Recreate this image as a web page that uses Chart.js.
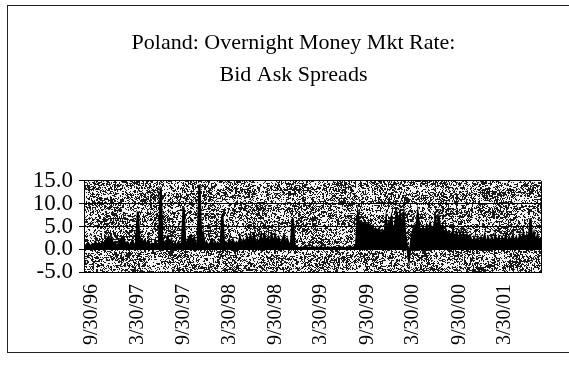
<!DOCTYPE html>
<html>
<head>
<meta charset="utf-8">
<title>Poland: Overnight Money Mkt Rate</title>
<script src="https://cdn.jsdelivr.net/npm/chart.js@4/dist/chart.umd.min.js"></script>
<style>
  html, body { margin: 0; padding: 0; background: #fff; }
</style>
</head>
<body>
<canvas id="spreads" width="569" height="367"></canvas>
<script>
// weekly bid/ask spread readings, first week starting 9/2/96
const firstWeek = '9/2/96';
const spreads1996 = [1.0, 0.5, 1.2, 0.6, 1.0, 0.5, 1.5, 0.8, 1.2, 0.6, 1.5, 1.0, 2.0, 2.5, 2.0, 2.5, 1.0];
const spreads1997 = [1.5, 0.6, 1.2, 2.0, 2.5, 2.3, 1.0, 1.5, 0.8, 1.2,
                     1.8, 0.8, 1.2, 8.3, 1.0, 2.0, 1.5, 2.0, 0.8, 1.8,
                     0.7, 1.2, 0.8, 1.5, 1.0, 1.3, 13.5, 1.0, 1.5, 0.8,
                     2.5, 1.0, 2.0, 0.7, 1.2, 0.8, 1.5, 1.0, 1.3, 9.2,
                     1.0, 1.5, 2.5, 3.0, 1.5, 2.5, 1.0, 1.5, 14.2, 2.0,
                     3.5, 1.0];
const spreads1998 = [1.5, 0.8, 1.2, 2.0, 1.0, 1.5, 0.8, 1.2, 1.0, 7.7,
                     1.0, 1.5, 0.8, 2.0, 1.0, 2.0, 1.0, 1.5, 0.8, 2.5,
                     1.0, 2.0, 1.0, 2.5, 1.2, 3.0, 1.5, 3.0, 1.0, 2.0,
                     1.5, 3.0, 1.0, 3.0, 1.5, 2.5, 1.0, 3.0, 1.2, 3.0,
                     1.5, 2.5, 1.0, 2.0, 3.0, 1.0, 2.0, 0.8, 1.5, 6.8,
                     1.0, 0.5];
const spreads1999 = [0.3, 0.2, 0.4, 0.2, 0.3, 0.5, 0.2, 0.3, 0.2, 0.4,
                     0.3, 0.2, 0.3, 0.6, 0.2, 0.3, 0.2, 0.4, 0.3, 0.2,
                     0.3, 0.5, 0.2, 0.3, 0.2, 0.4, 0.3, 0.2, 0.3, 0.4,
                     0.2, 0.3, 0.5, 1.0, 7.5, 5.0, 6.0, 5.5, 6.0, 5.0,
                     5.5, 4.5, 5.0, 3.5, 4.5, 4.0, 4.5, 3.0, 4.0, 3.0,
                     6.5, 4.0];
const spreads2000 = [5.5, 7.0, 3.5, 5.0, 7.5, 4.0, 7.5, 5.0, 7.5, 2.5,
                     0.5, -2.2, 1.0, 3.5, 5.0, 4.0, 7.8, 4.5, 3.0, 4.5,
                     3.0, 5.0, 3.5, 5.5, 4.0, 4.5, 6.5, 4.0, 6.8, 4.0,
                     5.0, 3.0, 4.0, 2.5, 3.5, 2.5, 4.0, 2.0, 3.5, 1.5,
                     3.5, 1.5, 3.0, 1.0, 3.0, 1.5, 2.5, 1.0, 2.5, 1.5,
                     2.5, 1.0];
const spreads2001 = [2.5, 1.5, 3.0, 1.0, 2.5, 1.5, 2.5, 1.0, 3.0, 1.5,
                     2.5, 1.0, 2.5, 1.5, 3.0, 1.0, 2.5, 1.5, 3.0, 1.0,
                     2.5, 1.5, 3.0, 1.5, 3.5, 1.5, 3.0, 2.0, 6.8, 2.0,
                     3.5, 1.5, 3.0, 1.5, 2.5];

const tickLabels = ['9/30/96', '3/30/97', '9/30/97', '3/30/98', '9/30/98',
                    '3/30/99', '9/30/99', '3/30/00', '9/30/00', '3/30/01'];
const axisStart = '8/29/96';
const axisEnd = '8/20/01';
const yTicks = [-5, 0, 5, 10, 15];

function toDay(s) {
    const [m, d, y] = s.split('/').map(Number);
    return Date.UTC(y < 50 ? 2000 + y : 1900 + y, m - 1, d) / 864e5;
}

const spreads = [].concat(spreads1996, spreads1997, spreads1998, spreads1999, spreads2000, spreads2001);
const day0 = toDay(firstWeek);
const points = spreads.map((v, i) => ({ x: day0 + 7 * i, y: v }));
const tickDays = tickLabels.map(toDay);

const serif = 'Liberation Serif, Times New Roman, serif';

// cheap integer hash, used for the speckled plot fill
function speck(x, y) {
    let n = Math.imul(x + 1, 374761393) ^ Math.imul(y + 7, 668265263);
    n = Math.imul(n ^ (n >>> 13), 1274126177);
    return ((n ^ (n >>> 16)) >>> 0) / 4294967296;
}

// grainy grey fill behind the plot, plus the frame around the whole chart
const plotBackdrop = {
    id: 'plotBackdrop',
    beforeDraw(chart) {
        const { ctx, chartArea: a } = chart;
        const left = Math.round(a.left), top = Math.round(a.top);
        const w = Math.round(a.right) - left, h = Math.round(a.bottom) - top;
        const img = ctx.createImageData(w, h);
        for (let y = 0; y < h; y++) {
            for (let x = 0; x < w; x++) {
                const clump = speck((x >> 1) + 3000, (y >> 1) + 5000);
                const dens = 0.48 + 0.1 * Math.sin(x / 13 + y / 7) * Math.cos(y / 5 - x / 19);
                const t = 0.6 * speck(x, y) + 0.4 * clump;
                const g = t < dens ? 25 : 245;
                const k = (y * w + x) * 4;
                img.data[k] = img.data[k + 1] = img.data[k + 2] = g;
                img.data[k + 3] = 255;
            }
        }
        ctx.putImageData(img, left, top);

        ctx.save();
        ctx.strokeStyle = '#222';
        ctx.lineWidth = 1;
        ctx.beginPath();
        ctx.moveTo(7.5, 5);
        ctx.lineTo(7.5, 353);
        ctx.moveTo(7, 5.5);
        ctx.lineTo(569, 5.5);
        ctx.moveTo(7, 352.5);
        ctx.lineTo(569, 352.5);
        ctx.stroke();
        ctx.restore();
    },
    afterDatasetsDraw(chart) {
        const { ctx, chartArea: a } = chart;
        ctx.save();
        ctx.strokeStyle = '#000';
        ctx.lineWidth = 1;
        ctx.beginPath();
        ctx.moveTo(Math.round(a.right) + 0.5, a.top);
        ctx.lineTo(Math.round(a.right) + 0.5, a.bottom);
        ctx.stroke();
        ctx.restore();
    }
};

new Chart(document.getElementById('spreads'), {
    type: 'line',
    data: {
        datasets: [{
            label: 'Bid Ask Spread',
            data: points,
            borderColor: '#000',
            backgroundColor: '#000',
            borderWidth: 2.2,
            fill: 'origin',
            pointRadius: 0,
            tension: 0
        }]
    },
    options: {
        responsive: false,
        animation: false,
        devicePixelRatio: 1,
        layout: { padding: { left: 18, right: 0, top: 0, bottom: 0 } },
        plugins: {
            legend: { display: false },
            tooltip: { enabled: false },
            title: {
                display: true,
                text: ['Poland: Overnight Money Mkt Rate:', 'Bid Ask Spreads'],
                color: '#000',
                font: { family: serif, size: 22, weight: 'normal', lineHeight: 1.42 },
                padding: { top: 28, bottom: 90.5 }
            }
        },
        scales: {
            x: {
                type: 'linear',
                min: toDay(axisStart),
                max: toDay(axisEnd),
                afterFit(scale) { scale.height = 95; },
                afterBuildTicks(scale) { scale.ticks = tickDays.map(v => ({ value: v })); },
                grid: { drawOnChartArea: false, drawTicks: false },
                border: { display: true, color: '#000', width: 1 },
                ticks: {
                    autoSkip: false,
                    minRotation: 90,
                    maxRotation: 90,
                    padding: 12,
                    color: '#000',
                    font: { family: serif, size: 20 },
                    callback: v => tickLabels[tickDays.indexOf(v)] || ''
                }
            },
            y: {
                min: -5,
                max: 15,
                afterFit(scale) { scale.width = 66; },
                afterBuildTicks(scale) { scale.ticks = yTicks.map(v => ({ value: v })); },
                grid: { color: '#000', lineWidth: 1, tickLength: 5 },
                border: { display: true, color: '#000', width: 1 },
                ticks: {
                    autoSkip: false,
                    padding: 6,
                    color: '#000',
                    font: { family: serif, size: 23 },
                    callback: v => v.toFixed(1)
                }
            },
            // empty right-hand margin so the chart body ends where the frame needs it
            margin: {
                position: 'right',
                min: -5,
                max: 15,
                afterFit(scale) { scale.width = 28; },
                grid: { display: false, drawTicks: false },
                border: { display: false },
                ticks: { display: false }
            }
        }
    },
    plugins: [plotBackdrop]
});
</script>
</body>
</html>
